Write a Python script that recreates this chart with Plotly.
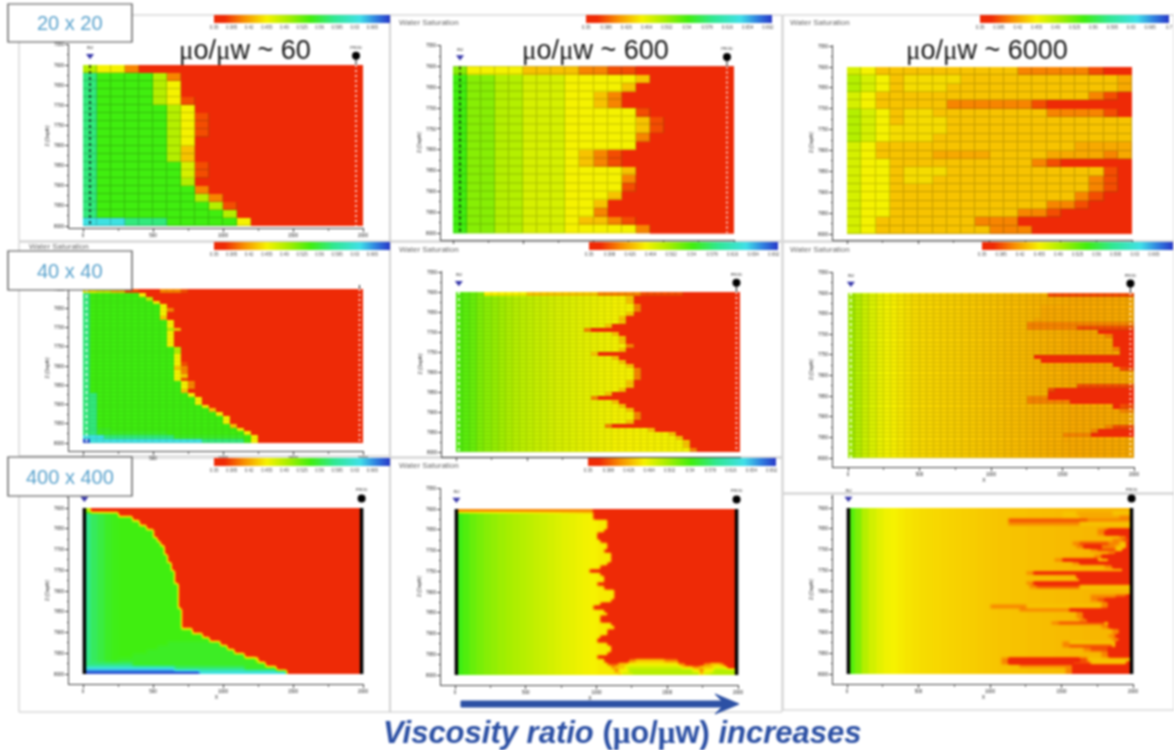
import re
import plotly.graph_objects as go

W, H = 1174, 750
LEVELS = dict(r=.35, d=.385, o=.406, p=.422, a=.434, u=.445, y=.455, k=.4725, l=.49,
              h=.511, g=.5425, f=.55, e=.581, c=.637, b=.69)
ZMIN, ZMAX = .35, .70
SCALE = [[0, '#ee2a06'], [.06, '#f02a05'], [.17, '#f88e00'], [.30, '#f6f200'], [.42, '#a8ee00'],
         [.55, '#40ee10'], [.68, '#30e890'], [.83, '#40e0e8'], [.92, '#3080e0'], [1, '#2838c8']]

XTICKS = [0, 500, 1000, 1500, 2000]
YTICKS = [7550, 7600, 7650, 7700, 7750, 7800, 7850, 7900, 7950, 8000]

CB_A = ['0.35', '0.385', '0.42', '0.455', '0.49', '0.525', '0.56', '0.595', '0.63', '0.665']
CB_B = ['0.35', '0.388', '0.426', '0.464', '0.502', '0.54', '0.578', '0.616', '0.654', '0.692', '0.73']
CB_C = ['0.35', '0.385', '0.42', '0.455', '0.49', '0.525', '0.56', '0.595', '0.63', '0.665', '0.7']

# 20 x 20 panels : one character per cell, the rest of each row is red
P1 = ["lyyo", "egggglo", "eggggly", "eggggly", "egggglyd",
      "egggggly", "eggggglyd", "eggggglyd", "eggggglyd", "egggggly",
      "egggggla", "egggggla", "eggggggkd", "eggggggkd", "eggggggl",
      "egggggggo", "eggggggglo", "eggggggggld", "egggggggggl", "ccceeegggggy"]
P2 = ["hyyyyaaaaoodd", "ghhllkkkyyyyya", "ghhllkkkyyyya", "ghhllkkkyyao", "ghhllkkkyyao",
      "ghhllkkkyyyyyd", "ghhllkkkyyyyyad", "ghhllkkkyyyyyad", "ghhllkkkyyyyyo", "ghhllkkkyyyyy",
      "ghhllkkkyaod", "ghhllkkkyaod", "ghhllkkkyyyya", "ghhllkkkyyyyo", "ghhllkkkyyyyd",
      "ghhllkkkyyya", "ghhllkkkyya", "ghhllkkkyyo", "ghhllkkkyaaod", "ghhllkkkyyyyyo"]
P3 = ["kyaaaaaaaaaaooooodrr", "lkyauuuuaaaaaaaaaaap", "lkyauuuaaaaaaaaaaaap", "kyaaaaaaaaaaaaaaaodr",
      "kyaaaaaoooooodrrrrrr", "lkyauuaaaaaaaaoooodr", "lkyauuuaaaaaaaaaaaaa", "lkyuuuuaaaaaaaaaaaaa",
      "lkyuuuaaaaaaaaaaaaaa", "kyaaaaaaaaaaaaaapppp", "kyaaaappppaaaappppop", "kyyaaaaaaaaaaodrrrrr",
      "kyyauuuaaaaaaaaaaadr", "kyyauuaaaaaaaaaaaodr", "kyyaaaaaaaaaaaaaaodr", "kyyaaaaaaaaaaaaaodrr",
      "kyyaaaaaaaaaaaoodrrr", "kyyaaaaaaaaaoodrrrrr", "kyaaaaaaaooorrrrrrrr", "kyaaaaaaaaooorrrrrrr"]

# 40 x 40 panels : runs of "<level><count>", the rest of each row is red
P4 = ["y2 k2 a2 d2 r3 o3 d1", "e1 g7 y1", "e1 g8 l1", "e1 g9 y1", "e1 g10 y1", "e1 g10 y1 o1", "e1 g10 y1",
      "e1 g10 a1", "e1 g11 y1", "e1 g11 y1", "e1 g11 l1 a1", "e1 g11 y1", "e1 g11 y1", "e1 g11 y1", "e1 g11 y1",
      "e1 g12 l1", "e1 g12 l1", "e1 g12 y1", "e1 g12 y1", "e1 g12 y1 d1", "e1 g12 a1 o1", "e1 g12 y1 o1",
      "e1 g12 y1 a1", "e1 g12 y1 d1", "e1 g13 y1 o1", "e1 g13 y1 o1", "e1 g13 a1", "e2 g13 y1", "e2 g14 y1",
      "e2 g14 y1", "e2 g15 y1", "e2 g16 a1", "e2 g17 y1", "e2 g18 y1", "e2 g18 y1", "e2 g19 a1", "e2 f2 g18 y1",
      "e2 f10 g11 y1", "c3 e10 f10 g1 y1", "b1 c16 e6 g1 y1"]
P5_BASE = [.535, .53, .525, .515, .51, .505, .50, .495, .49, .487, .484, .481, .478, .475, .472, .47, .468, .466,
           .464, .462, .46, .458, .456, .455, .455, .455, .455, .455, .455, .455, .455, .455, .455, .455, .455, .455,
           .455, .455, .455, .455]
P5 = [(4, "y6 a10 o6 d6"), (24, "a1"), (24, "a1"), (25, "o1"), (25, "o1"), (24, "a1"), (23, "a1"), (23, "a1"),
      (21, "a1"), (18, "o1"), (22, "a1"), (23, "a1"), (23, "a1"), (24, "o1"), (23, "a1"), (19, "a1"), (22, "a1"),
      (23, "a1"), (24, "a1"), (25, "o1"), (25, "o1"), (25, "o1"), (24, "a1"), (24, "a1"), (23, "a1"), (21, "a1"),
      (19, "o1"), (22, "a1"), (23, "a1"), (24, "a1"), (25, "o1"), (25, "o1"), (24, "a1"), (21, "o1"), (27, "a1"),
      (30, "a1"), (31, "a1"), (32, "a1"), (32, "a1"), (33, "o1")]
P6_BASE = [.50, .49, .478, .47, .462, .457, .453, .45, .447, .444, .443, .442, .441, .44, .439, .438, .437, .436,
           .435, .434, .433, .432, .431, .43, .429, .428, .427, .426, .425, .424, .423, .422, .422, .422, .422, .422,
           .422, .422, .422, .422]
P6 = [(28, "d12"), (40, ""), (38, "p2"), (27, "p13"), (27, "p13"), (27, "p13"), (26, "p14"),
      (25, "o15"), (25, "o7 d8"), (32, "p3 r5"), (36, "o1 r3"), (37, "r3"), (37, "r3"), (37, "o1 r2"), (38, "r2"),
      (26, "r14"), (27, "r13"), (37, "r3"), (38, "d2"), (40, ""), (40, ""), (38, "p2"), (32, "d8"), (28, "d1 r11"),
      (28, "r12"), (25, "o3 r12"), (25, "o6 r9"), (37, "r1 d2"), (38, "o2"), (40, ""), (40, ""), (36, "p4"),
      (36, "o1 d3"), (34, "o1 r5"), (30, "o4 r6"), (30, "p10"), (32, "p8"), (32, "p8"), (33, "p7"), (34, "p6")]

# 400 x 400 panels : base profile holds one value per two columns
P7_BASE = [.585, .57, .56, .55, .545, .5425, .5425, .5425, .5425, .5425, .5425, .5425, .5425, .5425, .5425, .5425,
           .5425, .5425, .5425, .5425, .5425, .5425, .5425, .5425, .5425, .5425, .5425, .5425, .5425, .5425]
P7 = [(0, "l2"), (10, ""), (14, ""), (16, ""), (18, ""), (20, ""), (20, ""), (21, ""), (22, ""), (23, ""),
      (23, ""), (24, ""), (24, ""), (25, ""), (25, ""), (26, ""), (26, ""), (26, ""), (27, ""), (27, ""),
      (27, ""), (27, ""), (27, ""), (27, ""), (28, ""), (28, ""), (28, ""), (28, ""), (28, ""), (31, ""),
      (34, ""), (36, ""), (24, "f15"), (21, "f20"), (18, "f25"), (14, "f32"), (10, "f39 l1"), "e14 f38",
      "c26 e20 f9", "b33 c25"]
P8_BASE = [.545, .535, .525, .518, .512, .507, .502, .498, .494, .49, .486, .482, .478, .474, .47, .466, .463, .46,
           .457, .455, .452, .452, .452, .452, .452, .452, .452, .452, .452, .452, .452, .452, .452, .452, .452, .452,
           .452, .452, .452, .452]
P8 = [(0, "o39"), (39, ""), (39, ""), (43, ""), (43, ""), (43, ""), (42, ""), (40, ""), (40, ""), (41, ""),
      (43, ""), (43, ""), (42, ""), (44, ""), (44, ""), (44, ""), (43, ""), (41, ""), (38, ""), (41, ""),
      (42, ""), (42, ""), (40, ""), (42, ""), (45, ""), (45, ""), (45, ""), (44, ""), (41, ""), (39, ""),
      (42, ""), (43, ""), (41, ""), (41, ""), (44, ""), (45, ""), (43, ""), (43, ""), (41, ""), (40, ""),
      (43, ""), (44, ""), (44, ""), (43, ""), (40, ""), (42, "r7 o2 a8 o4"), (43, "d3 a3 y14 o2 r5 o2 a3 o1"),
      (44, "o1 a3 k16 a3 o2 a4 y3 a1"), (45, "o1 y3 l18 y2 o1 y3 l7 a1"), (46, "a1 k3 l19 a1 k2 l8")]
P9_BASE = [.535, .515, .49, .475, .465, .458, .455, .452, .449, .447, .445, .444, .443, .442, .441, .44, .439, .438,
           .437, .436, .435, .434, .434, .433, .433, .432, .432, .431, .431, .43, .43, .429, .429, .428, .428, .428,
           .428, .428, .428, .428]
P9 = [(80, ""), (60, "a4 p10 a6"), (60, "a5 p11 o4"), (45, "d22 o13"), (45, "o20 a15"), (80, ""), (70, "o2 d1 r7"),
      (70, "o2 r8"), (76, "o2 r2"), (74, "o3 d2 r1"), (63, "o2 d8 o3 a2 r2"), (64, "o2 r5 o4 a3 r2"), (68, "o2 d5 a2 r3"), (73, "o2 r5"),
      (69, "o2 r9"), (58, "o2 r10 a3 r7"), (63, "o2 r15"), (72, "o2 r6"), (77, "r3"), (50, "o2 r28"), (64, "r16"), (65, "r15"),
      (50, "o2 r28"), (51, "o2 d12 a15"), (80, ""), (80, ""), (68, "o7 d3 r2"), (68, "o2 d2 r8"), (71, "o2 r7"),
      (40, "o10 a21 o2 r7"), (48, "o14 r18"), (64, "o2 r14"), (64, "o2 r14"), (65, "o2 r13"), (57, "o2 d13 a1 r7"), (71, "o2 r7"),
      (74, "o2 r4"), (74, "o2 r4"), (73, "o2 r5"), (74, "o2 r4"), (60, "o2 a13 r5"), (60, "o2 d12 a1 r5"), (66, "o2 d5 r7"), (71, "o2 r7"),
      (71, "o2 r7"), (43, "o2 r20 d2 a16 r7"), (43, "o2 r18 d5 a10 r7"), (48, "o15 r17"), (61, "o2 r17"), (61, "o2 r17")]


def runs(text):
    return "".join(ch * int(n) for ch, n in re.findall(r"([a-z])(\d+)", text))


def raster(rows, n, base=None):
    """Rows to values: a tuple is (columns taken from the base profile, runs after it)."""
    out = []
    step = 1 if base is None else n // len(base)
    for row in rows:
        if isinstance(row, tuple):
            vals = [base[c // step] for c in range(row[0])] + [LEVELS[ch] for ch in runs(row[1])]
        elif re.search(r"\d", row):
            vals = [LEVELS[ch] for ch in runs(row)]
        else:
            vals = [LEVELS[ch] for ch in row]
        out.append((vals + [LEVELS["r"]] * n)[:n])
    return out


PANELS = [
    # cells, columns, px: x(0), x(2000), y(7600), y(8000), spine left, spine bottom, axis top
    dict(z=raster(P1, 20), n=20, veil=.8, px=(83, 363, 65, 226, 69, 228, 44), smooth=False),
    dict(z=raster(P2, 20), n=20, veil=.8, px=(453, 734, 66.5, 233, 441, 240, 45), smooth=False),
    dict(z=raster(P3, 20), n=20, veil=.8, px=(847, 1132, 67, 234, 833, 240, 45), smooth=False),
    dict(z=raster(P4, 40), n=40, veil=.9, px=(83, 363, 289, 443, 69, 451, 285), smooth=False),
    dict(z=raster(P5, 40, P5_BASE), n=40, veil=.88, px=(456, 740, 292, 452, 442, 457, 271), smooth=False),
    dict(z=raster(P6, 40, P6_BASE), n=40, veil=.85, px=(848, 1134, 293, 458, 833, 467, 272), smooth=False),
    dict(z=raster(P7, 80, P7_BASE), n=80, veil=1, px=(83, 363, 508, 674, 69, 684, 497), smooth=True),
    dict(z=raster(P8, 80, P8_BASE), n=80, veil=1, px=(455, 738, 509, 675, 441, 685, 488), smooth=True),
    dict(z=raster(P9, 80, P9_BASE), n=80, veil=1, px=(847, 1133, 508, 674, 833, 684, 495), smooth=True),
]
COLORBARS = [(214, 15, 176, CB_A), (586, 15, 186, CB_B), (980, 15, 189, CB_C),
             (214, 242, 176, CB_A), (589, 242, 189, CB_B), (982, 242, 191, CB_C),
             (214, 458, 176, CB_A), (588, 458, 188, CB_B), None]
INJ_X = [50, 50, None, 25, 20, 20, 10, 10, 10]
PROD_X = [1950, 1950, None, 1975, 1975, 1975, 1990, 1990, 1990]
INJ_COL = ["#101010", "#101010", None, "#ffffff", "#ffffff", "#ffffff", "#000000", "#000000", "#000000"]
SHOW_INJ_MARK = [True, True, False, False, True, True, True, True, True]
MARK_Y = [7577, 7577, None, 7577, 7577, 7577, 7577, 7577, 7577]
XLABELS = [True, False, False, True, False, True, True, True, True]
XTITLE = [False, False, False, False, False, True, True, True, True]
TOP_TICK = [7550, 7550, 7550, 7600, 7550, 7550, 7600, 7550, 7600]

fig = go.Figure()
layout = dict(width=W, height=H, margin=dict(l=0, r=0, t=0, b=0, autoexpand=False), autosize=False,
              paper_bgcolor="white", plot_bgcolor="white", showlegend=False,
              font=dict(family="Liberation Sans", color="#333"))
shapes, annos = [], []


def fx(p):
    return p / W


def fy(p):
    return 1 - p / H


for (a, b, c, d) in [(19, 15, 390, 241), (19, 242, 390, 456), (19, 458, 390, 712),
                     (390, 15, 782, 241), (390, 242, 782, 457), (390, 458, 782, 712),
                     (783, 15, 1174, 241), (783, 242, 1174, 493), (783, 494, 1174, 710)]:
    shapes.append(dict(type="rect", xref="paper", yref="paper", x0=fx(a), x1=fx(c), y0=fy(b), y1=fy(d),
                       line=dict(color="#c4c4c4", width=1), layer="below"))

for i, p in enumerate(PANELS):
    k = "" if i == 0 else str(i + 1)
    x0p, x2p, y6p, y8p, sl, sb, top = p["px"]
    sx = 2000 / (x2p - x0p)
    sy = 400 / (y8p - y6p)
    right = x2p + 1
    layout["xaxis" + k] = dict(
        domain=[fx(sl), fx(right)], range=[(sl - x0p) * sx, (right - x0p) * sx], anchor="y" + k,
        tickvals=XTICKS, showticklabels=XLABELS[i], showline=True, linecolor="#444", linewidth=1, ticks="outside",
        ticklen=3, tickcolor="#444", tickfont=dict(size=4.5, color="#222"), showgrid=False, zeroline=False,
        minor=dict(tickvals=[250, 750, 1250, 1750], ticks="outside", ticklen=2, tickcolor="#666"),
        title=dict(text="X" if XTITLE[i] else "", font=dict(size=5, color="#222"), standoff=2))
    layout["yaxis" + k] = dict(
        domain=[fy(sb), fy(top)], range=[7600 + (sb - y6p) * sy, 7600 + (top - y6p) * sy], anchor="x" + k,
        tickvals=[t for t in YTICKS if t >= TOP_TICK[i]], showline=True, linecolor="#444", linewidth=1, ticks="outside",
        ticklen=3, tickcolor="#444", tickfont=dict(size=4.5, color="#222"), showgrid=False, zeroline=False,
        minor=dict(dtick=25, ticks="outside", ticklen=1.5, tickcolor="#666"),
        title=dict(text="Z (Depth)", font=dict(size=5, color="#222"), standoff=4))
    z = p["z"]
    m = len(z)
    cell = dict(x0=1000 / p["n"], dx=2000 / p["n"], y0=7600 + 200 / m, dy=400 / m,
                colorscale=SCALE, zmin=ZMIN, zmax=ZMAX, xaxis="x" + k, yaxis="y" + k, hoverinfo="skip")
    cb = COLORBARS[i]
    cbar = None
    if cb:
        cbar = dict(orientation="h", lenmode="pixels", len=cb[2], thicknessmode="pixels", thickness=8,
                    x=fx(cb[0]), xanchor="left", y=fy(cb[1]), yanchor="top", xpad=0, ypad=0,
                    outlinewidth=0, borderwidth=0, ticks="", tickfont=dict(size=4.5, color="#555"),
                    tickvals=[float(t) for t in cb[3]], ticktext=cb[3])
    if p["smooth"]:
        fig.add_trace(go.Heatmap(z=z, zsmooth="best", showscale=bool(cb), colorbar=cbar, **cell))
    else:
        shapes.append(dict(type="rect", xref="x" + k, yref="y" + k, x0=0, x1=2000, y0=7600, y1=8000,
                           fillcolor="#000000", line=dict(width=0), layer="below"))
        fig.add_trace(go.Heatmap(z=z, xgap=1, ygap=1, showscale=bool(cb), colorbar=cbar, **cell))
        fig.add_trace(go.Heatmap(z=z, showscale=False, opacity=p["veil"], **cell))
        z2 = [[v if v == LEVELS["r"] else None for v in row] for row in z]
        fig.add_trace(go.Heatmap(z=z2, showscale=False, **cell))
    if INJ_X[i] is None:
        continue
    solid = p["smooth"]
    dash_i = dict(color=INJ_COL[i], width=3.5 if solid else 1.5, dash="solid" if solid else "3px,3px")
    dash_p = dict(color="#000000" if solid else "#ffffff", width=3.5 if solid else 1.5,
                  dash="solid" if solid else "2px,3px")
    fig.add_trace(go.Scatter(x=[INJ_X[i], INJ_X[i]], y=[7600, 8000], mode="lines", line=dash_i, xaxis="x" + k,
                             yaxis="y" + k, hoverinfo="skip"))
    fig.add_trace(go.Scatter(x=[PROD_X[i], PROD_X[i]], y=[7600, 8000], mode="lines", line=dash_p, xaxis="x" + k,
                             yaxis="y" + k, hoverinfo="skip"))
    if not solid:
        fig.add_trace(go.Scatter(x=[PROD_X[i], PROD_X[i]], y=[MARK_Y[i], 7600], mode="lines",
                                 line=dict(color="#111", width=1), xaxis="x" + k, yaxis="y" + k, hoverinfo="skip"))
    fig.add_trace(go.Scatter(x=[PROD_X[i]], y=[MARK_Y[i]], mode="markers+text", text=["PROD"],
                             textposition="top center", textfont=dict(size=4, color="#222"),
                             marker=dict(symbol="circle", size=8, color="#000"), xaxis="x" + k, yaxis="y" + k,
                             cliponaxis=False, hoverinfo="skip"))
    if SHOW_INJ_MARK[i]:
        fig.add_trace(go.Scatter(x=[INJ_X[i]], y=[MARK_Y[i]], mode="markers+text", text=["INJ"],
                                 textposition="top center", textfont=dict(size=4, color="#222"),
                                 marker=dict(symbol="triangle-down", size=7, color="#3434a8"), xaxis="x" + k,
                                 yaxis="y" + k, cliponaxis=False, hoverinfo="skip"))

SANS = "Liberation Sans"


def text(x, y, s, size, color, anchor="left"):
    annos.append(dict(xref="paper", yref="paper", x=fx(x), y=fy(y), text=s, showarrow=False, xanchor=anchor,
                      yanchor="middle", font=dict(size=size, color=color, family=SANS)))


MU = '<span style="font-family:Liberation Serif">\u03bc</span>'
for cx, label in [(245, "60"), (595, "600"), (987, "6000")]:
    text(cx, 50, f"{MU}o/{MU}w ~ {label}", 27, "#151515", "center")
for x, y in [(397, 23), (788, 23), (27, 246), (397, 250), (788, 250), (397, 466)]:
    text(x, y, "Water Saturation", 8, "#666666")
for y0, y1, label in [(4, 42, "20 x 20"), (251, 290, "40 x 40"), (457, 496, "400 x 400")]:
    shapes.append(dict(type="rect", xref="paper", yref="paper", x0=fx(8), x1=fx(132), y0=fy(y0), y1=fy(y1),
                       fillcolor="white", line=dict(color="#444", width=1.2), layer="above"))
    text(70, (y0 + y1) / 2, label, 20, "#5aa2cc", "center")

BLUE = "#2c50a4"
path = [(461, 701), (722, 701), (715, 694), (739, 704), (715, 714), (722, 707), (461, 707)]
shapes.append(dict(type="path", xref="paper", yref="paper", fillcolor=BLUE, line=dict(color=BLUE, width=1),
                   path="M" + " L".join(f"{fx(a):.5f},{fy(b):.5f}" for a, b in path) + " Z", layer="above"))
text(622, 732, f"<b><i>Viscosity ratio</i> ({MU}o/{MU}w) <i>increases</i></b>", 31, BLUE, "center")

layout["shapes"] = shapes
layout["annotations"] = annos
fig.update_layout(**layout)
fig.write_html("out.html", config={"displayModeBar": False},
               post_script="document.body.style.margin='0';"
               "document.querySelector('.plot-container').style.filter='blur(0.8px)';")
